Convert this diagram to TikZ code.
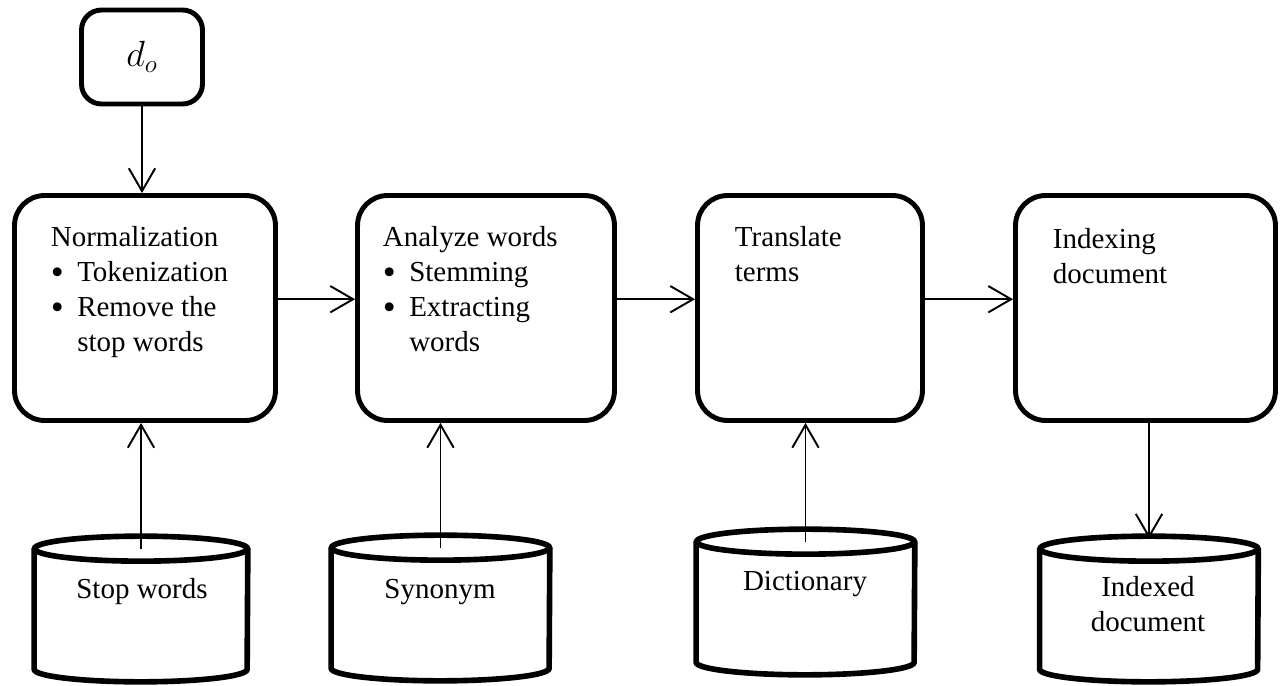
\documentclass[tikz,border=0pt]{standalone}
\usepackage{fontspec}
\setmainfont{Liberation Serif}
\usetikzlibrary{positioning,arrows.meta}

\newcommand{\itm}[1]{\makebox[15pt][l]{\raisebox{-1.5pt}{\fontsize{21}{20}\selectfont\textbullet}}#1}
\newcommand{\cont}[1]{\hspace*{15pt}#1}

\begin{document}
\begin{tikzpicture}
  [x=0.02cm,y=-0.02cm,
   every node/.style={font=\fontsize{16.5}{20}\selectfont},
   stepbox/.style={draw,line width=2.8pt,rounded corners=0.6cm,minimum width=#1,minimum height=4.5cm},
   txt/.style={anchor=north west,inner sep=0pt,align=left},
   dbtxt/.style={inner sep=0pt,align=center},
   dbbox/.style={inner sep=0pt,minimum width=#1,minimum height=2.4cm},
   dbline/.style={line width=3.2pt},
   arr/.style={-{Straight Barb[length=13pt,width=15pt]},line width=1.1pt}]
  \useasboundingbox (0,0) rectangle (1286,686);

  \node[stepbox=2.42cm,minimum height=1.88cm,rounded corners=0.4cm] (do) at (142,57)
    {\fontsize{22}{24}\selectfont$d_o$};

  \node[stepbox=5.22cm] (norm) at (145,308) {};
  \node[stepbox=5.14cm] (analyze) at (486,308) {};
  \node[stepbox=4.50cm] (trans) at (810,308) {};
  \node[stepbox=5.20cm] (index) at (1145.5,308) {};

  \node[txt] (norm-txt) at ([xshift=0.77cm,yshift=-0.66cm]norm.north west)
    {Normalization\\ \itm{Tokenization}\\ \itm{Remove the}\\ \cont{stop words}};
  \node[txt] (analyze-txt) at ([xshift=0.55cm,yshift=-0.66cm]analyze.north west)
    {Analyze words\\ \itm{Stemming}\\ \itm{Extracting}\\ \cont{words}};
  \node[txt] (trans-txt) at ([xshift=0.79cm,yshift=-0.66cm]trans.north west)
    {Translate\\ terms};
  \node[txt] (index-txt) at ([xshift=0.79cm,yshift=-0.70cm]index.north west)
    {Indexing\\ document};

  % databases
  \node[dbbox=4.26cm] (sw) at (141,609) {};
  \node[dbbox=4.36cm] (syn) at (440.5,608) {};
  \node[dbbox=4.36cm] (dict) at (805.5,602) {};
  \node[dbbox=4.36cm] (idx) at (1149,609) {};

  \foreach \n/\r in {sw/2.13,syn/2.18,dict/2.18,idx/2.18}{
    \draw[dbline] (\n.north west) -- (\n.south west)
      arc[start angle=180,end angle=360,x radius=\r cm,y radius=0.25cm] -- (\n.north east);
    \draw[dbline] (\n.north) ellipse [x radius=\r cm,y radius=0.25cm];
  }

  \node[dbtxt,anchor=base] (sw-txt) at (142,598) {Stop words};
  \node[dbtxt,anchor=base] (syn-txt) at (440,598) {Synonym};
  \node[dbtxt,anchor=base] (dict-txt) at (805,590) {Dictionary};
  \node[dbtxt,anchor=north] (idx-txt) at (1148,576) {Indexed\\ document};

  \draw[arr] (do.south) -- (do.south |- norm.north);

  \foreach \from/\to in {norm/analyze,analyze/trans,trans/index}
    \draw[arr] ([yshift=5pt]\from.east) -- ([yshift=5pt]\to.west);

  \foreach \from/\to in {sw/norm,syn/analyze,dict/trans}
    \draw[arr] (\from.north) -- (\from.north |- \to.south);

  \draw[arr] (idx.north |- index.south) -- ([yshift=0.2cm]idx.north);

\end{tikzpicture}
\end{document}
